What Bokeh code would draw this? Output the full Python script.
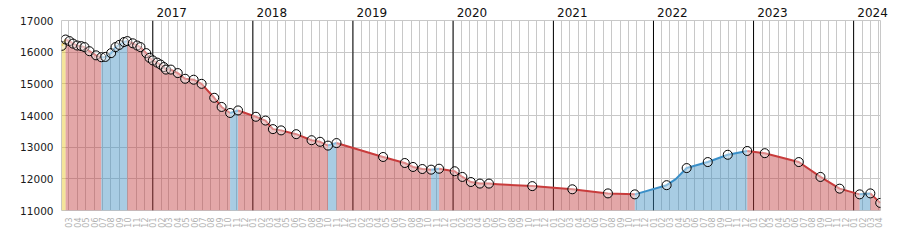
import math
import pandas as pd
from bokeh.plotting import figure
from bokeh.models import (Range1d, FixedTicker, DatetimeTickFormatter, Span,
                          DatetimeAxis, ColumnDataSource)
from bokeh.embed import file_html
from bokeh.resources import INLINE

# ---- data ----
marker_dates = [
    "2016-02-04", "2016-02-18", "2016-03-03", "2016-03-16", "2016-03-31",
    "2016-04-15", "2016-04-27", "2016-05-15", "2016-06-08", "2016-06-27",
    "2016-07-12", "2016-08-02", "2016-08-18", "2016-09-01", "2016-09-18",
    "2016-09-30", "2016-10-20", "2016-11-05", "2016-11-17", "2016-12-08",
    "2016-12-20", "2017-01-01", "2017-01-17", "2017-01-29", "2017-02-10",
    "2017-02-18", "2017-03-08", "2017-04-02", "2017-04-29", "2017-05-30",
    "2017-06-28", "2017-08-13", "2017-09-09", "2017-10-10", "2017-11-08",
    "2018-01-12", "2018-02-16", "2018-03-15", "2018-04-14", "2018-06-08",
    "2018-08-03", "2018-09-03", "2018-10-02", "2018-11-02", "2019-04-21",
    "2019-07-09", "2019-08-08", "2019-09-11", "2019-10-13", "2019-11-11",
    "2020-01-07", "2020-02-04", "2020-03-06", "2020-04-08", "2020-05-11",
    "2020-10-16", "2021-03-11", "2021-07-19", "2021-10-25", "2022-02-18",
    "2022-05-02", "2022-07-18", "2022-09-29", "2022-12-09", "2023-02-11",
    "2023-06-15", "2023-09-02", "2023-11-11", "2024-01-23", "2024-03-02",
    "2024-04-07",
]
marker_prices = [
    16200, 16400, 16350, 16270, 16210,
    16190, 16160, 16030, 15900, 15840,
    15850, 15970, 16160, 16230, 16320,
    16350, 16280, 16210, 16160, 15970,
    15820, 15740, 15670, 15610, 15530,
    15450, 15450, 15340, 15160, 15130,
    15000, 14560, 14270, 14080, 14160,
    13960, 13840, 13570, 13530, 13410,
    13220, 13170, 13050, 13130, 12690,
    12500, 12375, 12310, 12290, 12320,
    12240, 12060, 11900, 11850, 11850,
    11770, 11670, 11540, 11510, 11800,
    12340, 12530, 12760, 12880, 12810,
    12530, 12060, 11690, 11510, 11540,
    11240,
]
# extra bends of the price line between markers
bend_dates = ["2020-06-11", "2022-03-23"]
bend_prices = [11830, 11990]

y_ticks = [11000, 12000, 13000, 14000, 15000, 16000, 17000]
year_labels = ["2017", "2018", "2019", "2020", "2021", "2022", "2023", "2024"]
x_start, x_end = "2016-02-03", "2024-04-08"

trend_fill = {"new": "#e6c520", "down": "#c23b3d", "up": "#3d8fc2"}
trend_line = {"new": "#e2b600", "down": "#c83c3c", "up": "#3a8fc8"}


def ms(d):
    return pd.Timestamp(d).value // 10**6


# ---- build line ----
pts = sorted([(ms(d), v) for d, v in zip(marker_dates, marker_prices)] +
             [(ms(d), v) for d, v in zip(bend_dates, bend_prices)])
lx = [p_[0] for p_ in pts]
ly = [p_[1] for p_ in pts]

dirs = []
for i in range(len(lx) - 1):
    if i == 0:
        d = "new"
    elif ly[i + 1] > ly[i]:
        d = "up"
    elif ly[i + 1] < ly[i]:
        d = "down"
    else:
        d = dirs[-1]
    dirs.append(d)

groups = []
start = 0
for i in range(1, len(dirs) + 1):
    if i == len(dirs) or dirs[i] != dirs[start]:
        groups.append((start, i, dirs[start]))
        start = i

base = y_ticks[0]
patch_xs, patch_ys, patch_c, line_xs, line_ys, line_c = [], [], [], [], [], []
for a, b, d in groups:
    xs = lx[a:b + 1]
    ys = ly[a:b + 1]
    patch_xs.append(xs + [xs[-1], xs[0]])
    patch_ys.append(ys + [base, base])
    patch_c.append(trend_fill[d])
    line_xs.append(xs)
    line_ys.append(ys)
    line_c.append(trend_line[d])

month_ticks = [ms(d) for d in pd.date_range(x_start, x_end, freq="MS")]
year_ticks = [ms(y + "-01-01") for y in year_labels]
# year captions are left-aligned just right of each year line:
# place the (centred) axis label half a label-width to the right
year_label_ticks = [t + 69 * 86400000 for t in year_ticks]

# ---- figure ----
p = figure(width=900, height=250, x_axis_type="datetime",
           x_range=Range1d(ms(x_start), ms(x_end)),
           y_range=Range1d(y_ticks[0], y_ticks[-1]),
           output_backend="svg", toolbar_location=None,
           min_border_left=61, min_border_right=20,
           min_border_top=20, min_border_bottom=40)
p.outline_line_color = "#c8c8c8"
p.background_fill_color = "white"
p.border_fill_color = "white"

p.xgrid.ticker = FixedTicker(ticks=month_ticks)
p.xgrid.grid_line_color = "#c8c8c8"
p.ygrid.ticker = FixedTicker(ticks=y_ticks)
p.ygrid.grid_line_color = "#c8c8c8"

p.xaxis.ticker = FixedTicker(ticks=month_ticks)
p.xaxis.formatter = DatetimeTickFormatter(days="%m", months="%m", years="%m")
p.xaxis.major_label_orientation = math.pi / 2
p.xaxis.major_label_text_font = "DejaVu Sans"
p.xaxis.major_label_text_font_size = "8px"
p.xaxis.major_label_text_color = "#b0b0b0"
p.xaxis.axis_line_color = None
p.xaxis.major_tick_line_color = None
p.xaxis.minor_tick_line_color = None
p.xaxis.major_tick_out = 0
p.xaxis.minor_tick_out = 0
p.xaxis.major_label_standoff = 7

p.yaxis.ticker = FixedTicker(ticks=y_ticks)
p.yaxis.major_label_text_font = "DejaVu Sans"
p.yaxis.major_label_text_font_size = "10.5px"
p.yaxis.major_label_text_color = "#1a1a1a"
p.yaxis.axis_line_color = None
p.yaxis.major_tick_line_color = None
p.yaxis.minor_tick_line_color = None
p.yaxis.major_tick_out = 0
p.yaxis.minor_tick_out = 0
p.yaxis.major_label_standoff = 8

year_axis = DatetimeAxis(
    ticker=FixedTicker(ticks=year_label_ticks),
    formatter=DatetimeTickFormatter(days="%Y", months="%Y", years="%Y"),
    axis_line_color=None, major_tick_line_color=None,
    minor_tick_line_color=None, major_tick_out=0, minor_tick_out=0,
    major_label_standoff=4, major_label_text_font="DejaVu Sans",
    major_label_text_font_size="12px", major_label_text_color="#111111")
p.add_layout(year_axis, "above")

for t in year_ticks:
    p.add_layout(Span(location=t, dimension="height", line_color="black",
                      line_width=1, level="underlay"))

p.patches(xs="xs", ys="ys", fill_color="c", fill_alpha=0.45, line_color=None,
          source=ColumnDataSource(dict(xs=patch_xs, ys=patch_ys, c=patch_c)))
p.multi_line(xs="xs", ys="ys", line_color="c", line_width=2,
             line_join="round",
             source=ColumnDataSource(dict(xs=line_xs, ys=line_ys, c=line_c)))
p.scatter([ms(d) for d in marker_dates], marker_prices, marker="circle",
          size=9, fill_color="white", fill_alpha=0.4, line_color="black",
          line_width=1)

open("out.html", "w").write(file_html(p, INLINE))
